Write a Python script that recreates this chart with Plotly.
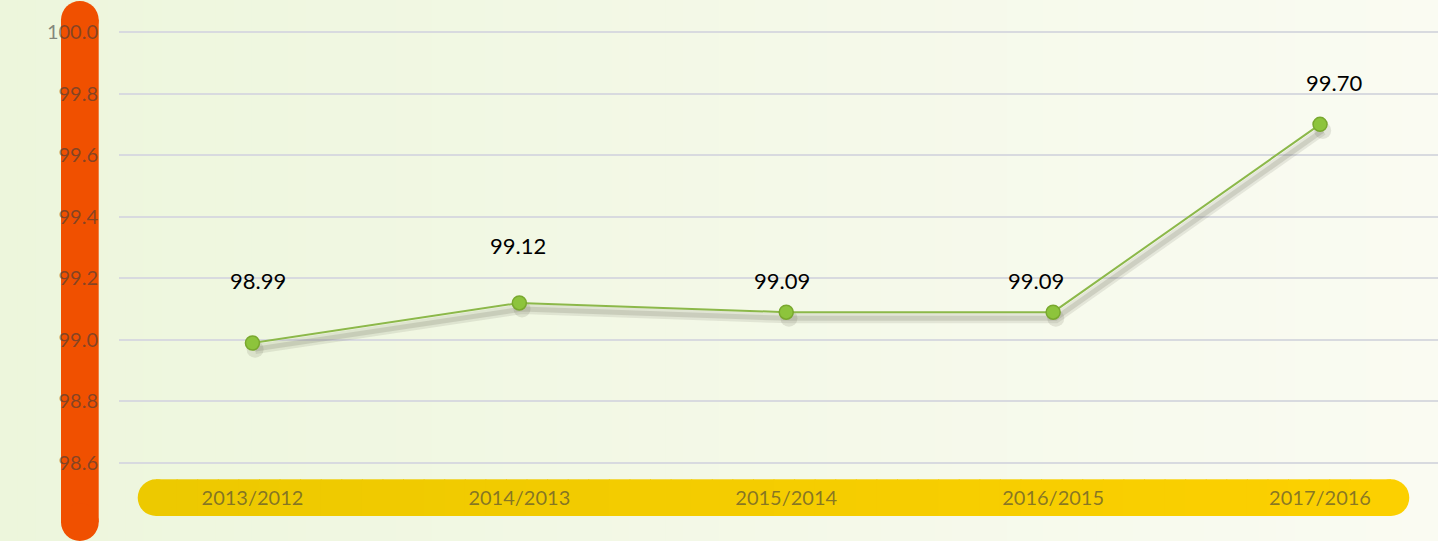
import plotly.graph_objects as go

# ---- data ----
categories = ["2013/2012", "2014/2013", "2015/2014", "2016/2015", "2017/2016"]
values = [98.99, 99.12, 99.09, 99.09, 99.70]
value_labels = ["98.99", "99.12", "99.09", "99.09", "99.70"]
y_ticks = [98.6, 98.8, 99.0, 99.2, 99.4, 99.6, 99.8, 100.0]
y_tick_labels = ["98.6", "98.8", "99.0", "99.2", "99.4", "99.6", "99.8", "100.0"]

# ---- style ----
W, H = 1438, 541
label_xshift = [6, -1, -4, -17, 14]
label_yshift = [62, 57, 32, 32, 42]
FONT = "Lato"
TICK_COLOR = "rgba(60,60,60,0.6)"
Y_MIN, Y_MAX = 98.532, 100.012
PX_PER_UNIT = 308.4
Y_TOP_PX = 32 - (Y_MAX - 100.0) * PX_PER_UNIT


def px(x):
    return x / W


def py(y):
    return 1 - y / H


def lerp(c0, c1, t):
    return "rgb(%d,%d,%d)" % tuple(round(a + (b - a) * t) for a, b in zip(c0, c1))


shapes = []
# background gradient
n = 80
bg0, bg1 = (237, 246, 220), (250, 251, 242)
for i in range(n):
    x0 = W * i / n
    x1 = W * (i + 1) / n + 1
    shapes.append(dict(type="rect", xref="paper", yref="paper", x0=px(x0), x1=px(x1),
                       y0=0, y1=1, fillcolor=lerp(bg0, bg1, i / (n - 1)),
                       line=dict(width=0), layer="below"))

# orange vertical bar
ox0, ox1, oy0, oy1 = 61, 98.7, 1, 541
orr = (ox1 - ox0) / 2
orange = "#F05000"
shapes.append(dict(type="rect", xref="paper", yref="paper", x0=px(ox0), x1=px(ox1),
                   y0=py(oy1 - orr), y1=py(oy0 + orr), fillcolor=orange,
                   line=dict(width=0), layer="below"))
for cy in (oy0 + orr, oy1 - orr):
    shapes.append(dict(type="circle", xref="paper", yref="paper", x0=px(ox0), x1=px(ox1),
                       y0=py(cy + orr), y1=py(cy - orr), fillcolor=orange,
                       line=dict(width=0), layer="below"))

# yellow horizontal bar
yx0, yx1, yy0, yy1 = 137.7, 1409.3, 479.3, 516
yr = (yy1 - yy0) / 2
ye0, ye1 = (237, 201, 0), (252, 208, 0)
m = 60
span = (yx1 - yr) - (yx0 + yr)
for i in range(m):
    a = yx0 + yr + span * i / m
    b = yx0 + yr + span * (i + 1) / m + 1
    shapes.append(dict(type="rect", xref="paper", yref="paper", x0=px(a), x1=px(min(b, yx1 - yr)),
                       y0=py(yy1), y1=py(yy0), fillcolor=lerp(ye0, ye1, i / (m - 1)),
                       line=dict(width=0), layer="below"))
shapes.append(dict(type="circle", xref="paper", yref="paper", x0=px(yx0), x1=px(yx0 + 2 * yr),
                   y0=py(yy1), y1=py(yy0), fillcolor=lerp(ye0, ye1, 0),
                   line=dict(width=0), layer="below"))
shapes.append(dict(type="circle", xref="paper", yref="paper", x0=px(yx1 - 2 * yr), x1=px(yx1),
                   y0=py(yy1), y1=py(yy0), fillcolor=lerp(ye0, ye1, 1),
                   line=dict(width=0), layer="below"))

xs = list(range(len(categories)))
fig = go.Figure()
# soft shadow under line
shadow_y = [v - 0.02 for v in values]
shadow_x = [x + 0.01 for x in xs]
fig.add_trace(go.Scatter(x=shadow_x, y=shadow_y, mode="lines+markers",
                         line=dict(color="rgba(90,90,70,0.12)", width=10),
                         marker=dict(size=17, color="rgba(90,90,70,0.14)"),
                         hoverinfo="skip", showlegend=False))
fig.add_trace(go.Scatter(x=shadow_x, y=shadow_y, mode="lines",
                         line=dict(color="rgba(90,90,70,0.16)", width=5),
                         hoverinfo="skip", showlegend=False))
fig.add_trace(go.Scatter(x=xs, y=values, mode="lines+markers",
                         line=dict(color="#8CB84A", width=2),
                         marker=dict(size=14, color="#8DC43C",
                                     line=dict(color="#79A82E", width=1.5)),
                         showlegend=False))

annotations = []
for i, (v, t) in enumerate(zip(values, value_labels)):
    annotations.append(dict(x=xs[i], y=v, text=t, showarrow=False,
                            xshift=label_xshift[i], yshift=label_yshift[i],
                            font=dict(family=FONT, size=22, color="#000000")))

fig.update_layout(
    width=W, height=H,
    margin=dict(l=0, r=0, t=0, b=0),
    paper_bgcolor="#F0F6E0",
    plot_bgcolor="rgba(0,0,0,0)",
    shapes=shapes,
    annotations=annotations,
    xaxis=dict(domain=[119 / W, 1], range=[-0.5, 4.442],
               tickmode="array", tickvals=xs, ticktext=categories,
               showgrid=False, zeroline=False, showline=False, ticks="",
               tickfont=dict(family=FONT, size=20, color=TICK_COLOR),
               automargin=False, fixedrange=True),
    yaxis=dict(domain=[1 - 484 / H, 1 - Y_TOP_PX / H], range=[Y_MIN, Y_MAX],
               tickmode="array", tickvals=y_ticks, ticktext=y_tick_labels,
               showgrid=True, gridcolor="#D8DADF", gridwidth=1.5,
               zeroline=False, showline=False, ticks="",
               ticklabelstandoff=20,
               tickfont=dict(family=FONT, size=20, color=TICK_COLOR),
               automargin=False, fixedrange=True),
)

fig.write_html("out.html", config={"displayModeBar": False},
               post_script="document.body.style.margin='0px';document.body.style.overflow='hidden';")
